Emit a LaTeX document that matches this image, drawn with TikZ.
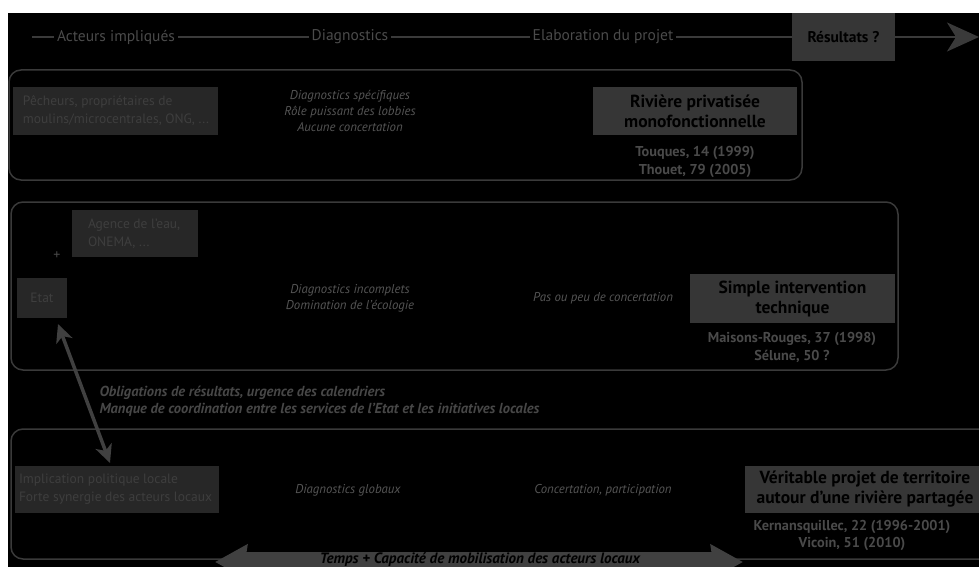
\documentclass[tikz,border=0pt]{standalone}
\usepackage{fontspec}
\setmainfont{PT Sans}
\usetikzlibrary{arrows.meta}
\definecolor{linec}{HTML}{3A3A3A}
\definecolor{hdrc}{HTML}{4B4B4B}
\definecolor{resfill}{HTML}{363636}
\definecolor{actfill}{HTML}{272727}
\definecolor{acttext}{HTML}{3E3E3E}
\definecolor{diagc}{HTML}{555555}
\definecolor{casec}{HTML}{4A4A4A}
\definecolor{arrc}{HTML}{404040}
\definecolor{oblc}{HTML}{474747}
\tikzset{
  hline/.style={draw=linec, line width=2pt},
  hdr/.style={text=hdrc, font=\fontsize{15.5}{17}\selectfont, inner xsep=3pt, inner ysep=0pt},
  panel/.style={draw=linec, line width=1.5pt, rounded corners=12pt},
  resbox/.style={fill=resfill, text=black, font=\bfseries\fontsize{17.5}{20}\selectfont, align=center, inner sep=0pt},
  actbox/.style={fill=actfill, inner sep=0pt},
  acttxt/.style={text=acttext, font=\fontsize{13.5}{18}\selectfont, align=left, inner sep=0pt, anchor=west},
  diag/.style={text=diagc, font=\itshape\fontsize{12.8}{16}\selectfont, align=center},
  cases/.style={text=casec, font=\bfseries\fontsize{14.3}{17.5}\selectfont, align=center},
  obl/.style={text=oblc, font=\bfseries\itshape\fontsize{14.5}{17}\selectfont, align=left},
  darrow/.style={draw=arrc, line width=3.5pt, {Stealth[length=18pt,width=17pt,inset=5pt]}-{Stealth[length=18pt,width=17pt,inset=5pt]}},
  barrow/.style={draw=arrc, line width=20pt, {Stealth[length=32pt,width=34pt,inset=2pt]}-{Stealth[length=32pt,width=34pt,inset=2pt]}}
}
\begin{document}
\begin{tikzpicture}[x=1pt,y=-1pt]
\useasboundingbox (0,0) rectangle (979,567);
\fill[white] (0,0) rectangle (979,567);
\fill[black] (8,13) rectangle (979,567);
\clip (0,0) rectangle (979,567);

% header
\coordinate (hs) at (32,37);
\coordinate (he) at (979,37);
\node[hdr] (h1) at (116,37) {Acteurs impliqués};
\node[hdr] (h2) at (350,37) {Diagnostics};
\node[hdr] (h3) at (603,37) {Elaboration du projet};
\node[resbox, font=\bfseries\fontsize{15.5}{17}\selectfont, minimum width=103pt, minimum height=48pt] (res) at (843.5,37) {Résultats ?};
\draw[hline] (hs) -- (h1);
\draw[hline] (h1) -- (h2);
\draw[hline] (h2) -- (h3);
\draw[hline] (h3) -- (res);
\draw[hline, -{Stealth[length=32pt,width=29pt,inset=9pt]}] (res) -- (he);

% panels
\draw[panel] (9,70) rectangle (802,180);
\draw[panel] (11,202) rectangle (898,370);
\draw[panel] (11,429) rectangle (1010,559);

% row 1
\node[actbox, minimum width=205pt, minimum height=48pt] (p1) at (115.5,111) {};
\node[acttxt] (p1t) at ([xshift=10pt]p1.west) {Pêcheurs, propriétaires de\\moulins/microcentrales, ONG, ...};
\node[diag] (d1) at (350,111) {Diagnostics spécifiques\\Rôle puissant des lobbies\\Aucune concertation};
\node[resbox, minimum width=204pt, minimum height=48pt] (r1) at (695,111) {Rivière privatisée\\monofonctionnelle};
\node[cases] (c1) at (695,162) {Touques, 14 (1999)\\Thouet, 79 (2005)};

% row 2
\node[actbox, minimum width=126pt, minimum height=47pt] (ag) at (135,233.5) {};
\node[acttxt] (agt) at ([xshift=16pt]ag.west) {Agence de l'eau,\\ONEMA, ...};
\node[text=casec, font=\fontsize{14}{16}\selectfont] (plus) at (57,256) {+};
\node[actbox, minimum width=50pt, minimum height=40pt] (etat) at (42,298) {};
\node[acttxt, anchor=center] (etatt) at (etat.center) {Etat};
\node[diag] (d2) at (350,298) {Diagnostics incomplets\\Domination de l'écologie};
\node[diag] (e2) at (603,298) {Pas ou peu de concertation};
\node[resbox, minimum width=205pt, minimum height=49pt] (r2) at (792.5,298.5) {Simple intervention\\technique};
\node[cases] (c2) at (792,347.5) {Maisons-Rouges, 37 (1998)\\Sélune, 50 ?};

% between
\node[obl, anchor=west] (ob) at (96,401) {Obligations de résultats, urgence des calendriers\\Manque de coordination entre les services de l'Etat et les initiatives locales};

% row 3
\node[actbox, minimum width=204pt, minimum height=47pt] (impl) at (117,489.5) {};
\node[acttxt] (implt) at ([xshift=4pt]impl.west) {Implication politique locale\\Forte synergie des acteurs locaux};
\node[diag] (d3) at (348,490) {Diagnostics globaux};
\node[diag] (e3) at (603,490) {Concertation, participation};
\node[resbox, minimum width=240pt, minimum height=47pt] (r3) at (865,489.5) {Véritable projet de territoire\\autour d'une rivière partagée};
\node[cases] (c3) at (852,535.5) {Kernansquillec, 22 (1996-2001)\\Vicoin, 51 (2010)};

% arrows
\coordinate (a1) at (58,324);
\coordinate (a2) at (110,463);
\draw[darrow] (a1) -- (a2);
\coordinate (b1) at (215,562);
\coordinate (b2) at (743,562);
\draw[barrow] (b1) -- (b2);
\node[text=black, font=\bfseries\itshape\fontsize{15}{17}\selectfont] (bt) at (480,559.5) {Temps + Capacité de mobilisation des acteurs locaux};
\end{tikzpicture}
\end{document}
